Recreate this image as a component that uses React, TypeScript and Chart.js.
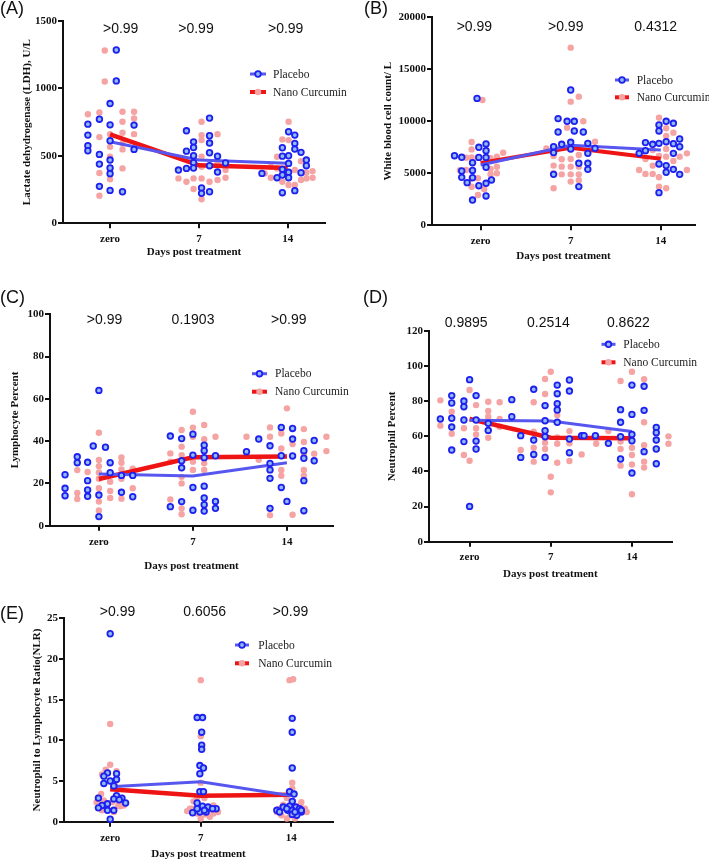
import React, { useEffect, useRef } from 'react';
import { Chart, registerables } from 'chart.js';

Chart.register(...registerables);

// ---------- shared labels ----------
const dayLabels = ['zero', '7', '14'];
const xAxisTitle = 'Days post treatment';
const legendNames = ['Placebo', 'Nano Curcumin'];

// ---------- (A) LDH ----------
const ldhTitle = 'Lactate dehydrogenase (LDH), U/L';
const ldhPValues = ['>0.99', '>0.99', '>0.99'];
const ldhYTicks = [0, 500, 1000, 1500];
const ldhPlaceboMean = [605, 470, 445];
const ldhNanoMean = [660, 430, 410];
// [jitter, value] per day
const ldhPlacebo = [
  [[-0.25, 735], [-0.25, 654], [-0.25, 575], [-0.25, 538], [-0.12, 772], [-0.12, 511], [-0.12, 439], [-0.12, 274], [0, 888], [0, 730], [0, 612], [0, 469], [0, 410], [0, 368], [0, 244], [0.07, 1285], [0.07, 1056], [0.14, 234], [0.27, 728], [0.27, 548]],
  [[-0.23, 395], [-0.14, 686], [-0.14, 535], [-0.14, 407], [-0.06, 604], [-0.06, 562], [-0.06, 501], [-0.06, 449], [-0.06, 410], [0.03, 262], [0.03, 222], [0.12, 780], [0.12, 649], [0.12, 595], [0.12, 523], [0.12, 427], [0.12, 234], [0.21, 498], [0.21, 380], [0.3, 447]],
  [[-0.29, 370], [-0.12, 338], [-0.06, 560], [-0.06, 498], [-0.06, 400], [-0.06, 358], [-0.06, 227], [0.01, 679], [0.01, 501], [0.01, 444], [0.01, 378], [0.01, 338], [0.08, 654], [0.08, 592], [0.08, 550], [0.08, 242], [0.15, 526], [0.15, 375], [0.21, 469], [0.21, 427]],
];
const ldhNano = [
  [[-0.25, 809], [-0.12, 822], [-0.12, 639], [-0.12, 373], [-0.12, 205], [-0.06, 1281], [-0.06, 1051], [0, 660], [0, 567], [0, 493], [0, 395], [0, 326], [0.14, 827], [0.14, 753], [0.14, 671], [0.14, 592], [0.14, 548], [0.14, 407], [0.27, 827], [0.27, 777], [0.27, 661]],
  [[-0.23, 333], [-0.14, 308], [-0.06, 567], [-0.06, 333], [-0.06, 254], [0.03, 753], [0.03, 654], [0.03, 617], [0.03, 493], [0.03, 419], [0.03, 333], [0.03, 178], [0.12, 654], [0.12, 308], [0.21, 661], [0.21, 444], [0.21, 321], [0.3, 395], [0.3, 338]],
  [[-0.26, 370], [-0.19, 338], [-0.19, 420], [-0.12, 493], [-0.12, 407], [-0.06, 622], [-0.06, 308], [0.01, 753], [0.01, 617], [0.01, 284], [0.08, 395], [0.08, 284], [0.15, 461], [0.15, 321], [0.21, 375], [0.21, 333], [0.28, 387], [0.28, 338]],
];

// ---------- (B) WBC ----------
const wbcTitle = 'White blood cell count/ L';
const wbcPValues = ['>0.99', '>0.99', '0.4312'];
const wbcYTicks = [0, 5000, 10000, 15000, 20000];
const wbcPlaceboMean = [5800, 7700, 7250];
const wbcNanoMean = [6000, 7450, 6400];
const wbcPlacebo = [
  [[-0.29, 6690], [-0.21, 6540], [-0.21, 5220], [-0.21, 4610], [-0.15, 4100], [-0.09, 6020], [-0.09, 5280], [-0.09, 4580], [-0.09, 2430], [-0.04, 12200], [-0.02, 7500], [-0.02, 6530], [-0.02, 3810], [0.06, 7820], [0.06, 7170], [0.06, 6530], [0.06, 5580], [0.06, 4040], [0.06, 2820], [0.12, 4360]],
  [[-0.14, 10260], [-0.14, 8970], [-0.19, 7560], [-0.19, 6990], [-0.19, 4900], [-0.1, 7790], [-0.04, 10000], [0, 13010], [0, 7980], [0, 7340], [0.04, 10000], [0.04, 9070], [0.09, 5960], [0.09, 3720], [0.14, 8970], [0.19, 7880], [0.19, 6920], [0.19, 5960], [0.19, 5380], [0.27, 7400]],
  [[-0.24, 6920], [-0.17, 7950], [-0.17, 7180], [-0.09, 7790], [-0.02, 9650], [-0.02, 9070], [-0.02, 7880], [-0.02, 5900], [-0.02, 3140], [0.06, 10000], [0.06, 8040], [0.06, 5740], [0.06, 5100], [0.14, 9810], [0.14, 7850], [0.14, 6920], [0.14, 5380], [0.21, 8300], [0.21, 7560], [0.21, 4900]],
];
const wbcNano = [
  [[0.02, 12050], [-0.1, 8010], [-0.1, 7300], [-0.16, 6500], [-0.1, 6530], [-0.16, 5320], [-0.03, 6530], [-0.03, 4520], [-0.1, 3710], [-0.03, 2910], [0.04, 3460], [0.11, 6440], [0.11, 5410], [0.11, 4900], [0.18, 6600], [0.18, 5630], [0.18, 5000], [0.25, 6980], [-0.23, 5300], [-0.1, 4500]],
  [[0, 11890], [0.09, 12370], [0, 17080], [-0.27, 7400], [-0.19, 6670], [-0.19, 5740], [-0.19, 5000], [-0.19, 3560], [-0.1, 6350], [-0.1, 5640], [-0.1, 4900], [-0.04, 9390], [0, 6380], [0, 5640], [0, 4900], [0, 4200], [0.09, 6760], [0.09, 5640], [0.09, 4900], [0.09, 4330], [0.14, 10000], [0.27, 8040]],
  [[-0.24, 5320], [-0.17, 6380], [-0.17, 4940], [-0.09, 7240], [-0.09, 5740], [-0.09, 4940], [-0.02, 10350], [-0.02, 6670], [-0.02, 4620], [-0.02, 3720], [0.06, 9330], [0.06, 8590], [0.06, 6600], [0.06, 3560], [0.14, 8910], [0.14, 6190], [0.21, 6600], [0.29, 6920], [0.29, 5320], [0.06, 7340]],
];

// ---------- (C) Lymphocyte ----------
const lymTitle = 'Lymphocyte Percent';
const lymPValues = ['>0.99', '0.1903', '>0.99'];
const lymYTicks = [0, 20, 40, 60, 80, 100];
const lymPlaceboMean = [24.5, 23.5, 29.8];
const lymNanoMean = [22.1, 32.4, 32.7];
const lymPlacebo = [
  [[-0.36, 24.1], [-0.36, 17.7], [-0.36, 14.2], [-0.23, 32.6], [-0.23, 29.8], [-0.12, 30], [-0.12, 21.3], [-0.12, 16.9], [-0.12, 13.9], [-0.06, 37.7], [0, 14.5], [0, 4.3], [0, 64], [0.07, 37.1], [0.12, 29.8], [0.12, 25.1], [0.24, 23.8], [0.24, 15.8], [0.36, 23.8], [0.36, 13.7]],
  [[-0.24, 42.4], [-0.24, 9], [-0.12, 41.2], [-0.12, 30.7], [-0.12, 27.4], [-0.12, 11.4], [0, 43.3], [0, 33.4], [0, 18.1], [0, 7.3], [0.12, 38.1], [0.12, 35.5], [0.12, 32.2], [0.12, 18.7], [0.12, 13.1], [0.12, 9.9], [0.12, 6.9], [0.24, 33.1], [0.24, 11.5], [0.24, 8.2]],
  [[-0.43, 35], [-0.3, 41], [-0.18, 37.8], [-0.18, 29.5], [-0.18, 26.4], [-0.18, 22.4], [-0.18, 8.2], [-0.06, 46.5], [-0.06, 33.1], [-0.06, 18.1], [0, 11.5], [0.06, 46], [0.06, 41], [0.06, 33], [0.18, 35.5], [0.18, 31.9], [0.18, 21.3], [0.18, 7.1], [0.29, 40.3], [0.29, 30.7]],
];
const lymNano = [
  [[-0.23, 26.3], [-0.23, 15.5], [-0.23, 12.6], [-0.12, 25.4], [0, 44], [0, 31.1], [0, 28.1], [0, 25.2], [0, 22.2], [0, 17.7], [0, 11.4], [0, 7.2], [0.12, 20.8], [0.12, 16.4], [0.12, 13.1], [0.24, 32.3], [0.24, 29.8], [0.24, 26.6], [0.24, 22.2], [0.24, 12.8], [0.36, 27], [0.36, 17.7]],
  [[-0.24, 34.2], [-0.24, 30.3], [-0.24, 12.4], [-0.12, 45.3], [-0.12, 37.4], [-0.12, 33.4], [-0.12, 23.1], [-0.12, 20], [-0.12, 8.2], [-0.12, 5.4], [0, 53.9], [0, 46.4], [0, 42.1], [0, 30.3], [0, 26.4], [0.12, 47.6], [0.12, 40.9], [0.12, 29.5], [0.12, 26.4], [0.24, 42.1]],
  [[-0.43, 42.1], [-0.3, 31.2], [-0.18, 46.5], [-0.18, 42.1], [-0.18, 5], [-0.06, 43.6], [-0.06, 36.5], [-0.06, 26.4], [-0.06, 23.6], [0, 55.5], [0.06, 38.6], [0.06, 5.2], [0.18, 45.7], [0.18, 39.6], [0.18, 34], [0.18, 26.4], [0.18, 23.6], [0.29, 34], [0.42, 42.1], [0.42, 35.3]],
];

// ---------- (D) Neutrophil ----------
const neuTitle = 'Neutrophil Percent';
const neuPValues = ['0.9895', '0.2514', '0.8622'];
const neuYTicks = [0, 20, 40, 60, 80, 100, 120];
const neuPlaceboMean = [69.1, 68.7, 62.7];
const neuNanoMean = [69.9, 59.2, 58.9];
const neuPlacebo = [
  [[-0.36, 69.9], [-0.22, 83.2], [-0.22, 79], [-0.22, 70.3], [-0.22, 65.3], [-0.22, 52.2], [-0.07, 80.1], [-0.07, 76.9], [-0.07, 69.3], [-0.07, 57], [0, 92.3], [0, 20.1], [0.08, 83.2], [0.08, 69.3], [0.08, 57.3], [0.08, 52.8], [0.23, 67.4], [0.23, 63.4], [0.52, 80.9], [0.52, 71.2]],
  [[-0.37, 60.4], [-0.37, 48], [-0.21, 86.8], [-0.21, 57.9], [-0.21, 49.7], [-0.07, 77.5], [-0.07, 68.9], [-0.07, 63.2], [-0.07, 59.8], [-0.07, 48], [0.08, 89.2], [0.08, 84.3], [0.08, 78.6], [0.08, 75], [0.08, 68], [0.23, 92.1], [0.23, 85.8], [0.23, 58.5], [0.23, 50.7], [0.38, 60.4], [0.41, 60.4]],
  [[-0.45, 60.4], [-0.29, 56], [-0.14, 75.2], [-0.14, 68], [-0.14, 59.8], [-0.14, 47.1], [0, 89.2], [0, 72.5], [0, 61.1], [0, 57.5], [0, 39.1], [0.15, 88.5], [0.15, 74.8], [0.15, 51.3], [0.3, 65.1], [0.3, 62.1], [0.3, 57.9], [0.3, 52.8], [0.3, 44.4]],
];
const neuNano = [
  [[-0.36, 80.5], [-0.36, 66.1], [-0.22, 74], [-0.22, 61.5], [-0.07, 64.6], [-0.07, 49.4], [0, 86.4], [0, 46.1], [0.08, 77.8], [0.08, 64.6], [0.08, 61.1], [0.23, 79.7], [0.23, 74.4], [0.23, 71.2], [0.23, 59.2], [0.37, 79.4], [0.37, 69.9], [0.37, 65.5]],
  [[-0.37, 52.2], [-0.21, 79.4], [-0.21, 62.7], [-0.21, 53.5], [-0.21, 45.6], [-0.07, 92.7], [-0.07, 84.1], [-0.07, 56.4], [-0.07, 52.8], [-0.07, 48.4], [0, 96.8], [0, 37], [0, 28.1], [0.08, 72.2], [0.08, 59.4], [0.08, 55.8], [0.08, 45], [0.23, 63], [0.23, 56], [0.23, 46], [0.38, 49.7], [0.56, 55.8]],
  [[-0.29, 63], [-0.14, 91.5], [-0.14, 57], [-0.14, 52.8], [-0.14, 43.3], [0, 96.8], [0, 53.5], [0, 49.4], [0, 44], [0, 27], [0.15, 92.5], [0.15, 68], [0.15, 55], [0.15, 45.6], [0.15, 42.2], [0.45, 60], [0.45, 55.8]],
];

// ---------- (E) NLR ----------
const nlrTitle = 'Neutrophil to Lymphocyte Ratio(NLR)';
const nlrPValues = ['>0.99', '0.6056', '>0.99'];
const nlrYTicks = [0, 5, 10, 15, 20, 25];
const nlrPlaceboMean = [4.3, 4.9, 3.2];
const nlrNanoMean = [4.0, 3.2, 3.3];
const nlrPlacebo = [
  [[0, 23.1], [-0.03, 6.0], [0.07, 5.9], [-0.07, 5.6], [0.07, 5.2], [0, 5.0], [-0.07, 4.7], [0.04, 4.4], [-0.13, 2.9], [0.07, 3.2], [0.04, 2.8], [0.13, 2.9], [0.17, 2.3], [-0.03, 2.2], [-0.09, 2.0], [-0.13, 1.7], [-0.03, 1.4], [0.04, 1.4], [0, 0.3], [0.1, 2.7]],
  [[-0.04, 12.8], [0.02, 12.8], [0.01, 11.0], [0.01, 9.4], [0.01, 8.9], [-0.01, 6.9], [0.03, 6.6], [-0.01, 5.9], [-0.01, 3.7], [0.03, 3.7], [-0.04, 2.3], [0.02, 1.9], [0.08, 1.8], [0.17, 1.6], [-0.09, 1.1], [-0.01, 1.2], [0.06, 1.2], [-0.04, 1.6], [0.13, 1.6], [0.04, 1.4]],
  [[0.01, 12.7], [0.01, 11.0], [0.01, 6.6], [-0.02, 3.7], [0.03, 3.4], [0.01, 2.5], [-0.02, 1.9], [-0.09, 1.8], [0.05, 1.8], [0.09, 1.6], [-0.16, 1.4], [-0.13, 1.2], [-0.04, 1.4], [0.01, 1.4], [0.11, 1.2], [0.06, 0.8], [0.01, 0.9], [0.11, 1.4], [0.04, 1.2], [-0.05, 1.6]],
];
const nlrNano = [
  [[0, 12], [0, 7], [-0.05, 6.4], [0.07, 6.2], [-0.09, 5.8], [0.05, 4.6], [-0.1, 3.4], [-0.13, 3.0], [0.1, 2.6], [-0.15, 2.4], [0.13, 2.2], [-0.07, 2.6], [0.09, 2.0], [-0.11, 2.1], [0.15, 2.0], [-0.04, 1.8], [0.02, 2.4], [-0.09, 1.4], [0.11, 1.9], [0.04, 1.2]],
  [[0, 17.4], [0, 10.5], [0, 4.8], [0, 3.3], [-0.08, 2.5], [-0.12, 1.6], [-0.15, 1.3], [-0.04, 1.0], [0.07, 1.6], [0.14, 1.0], [0, 0.4], [0.1, 0.6], [-0.1, 1.6], [0.19, 1.2], [0.04, 2.9], [-0.04, 2.9], [0.14, 2.0], [-0.06, 1.1], [0.05, 0.9]],
  [[-0.02, 17.4], [0.02, 17.5], [0.01, 4.8], [0.01, 4.1], [-0.05, 2.9], [0.11, 2.4], [-0.09, 2.1], [-0.13, 1.6], [0.17, 1.2], [-0.16, 1.2], [0.08, 1.2], [-0.01, 0.8], [-0.05, 0.4], [0.1, 2.0], [0.02, 2.5], [0.15, 1.6], [-0.11, 0.8], [0.04, 0.4]],
];

// ---------- styles ----------
const PINK = '#f5a3a3';
const BLUE_EDGE = '#1f1ff0';
const BLUE_FILL = '#8fbaf4';
const BLUE_LINE = '#5757f0';
const RED_LINE = '#ee1414';
const INK = '#111111';
const SERIF = '"Liberation Serif", "Times New Roman", serif';
const SANS = '"Liberation Sans", Arial, sans-serif';

const panels = [
  {
    key: 'A', letter: '(A)', letterPos: { l: 0, t: -1 },
    yTitle: ldhTitle, pValues: ldhPValues, yTicks: ldhYTicks,
    placebo: ldhPlacebo, nano: ldhNano, placeboMean: ldhPlaceboMean, nanoMean: ldhNanoMean,
    box: { l: 0, t: 0, w: 350, h: 259 }, area: { l: 63, r: 325, t: 21, b: 223.3 },
    xMin: -0.53, xMax: 2.42, yTitleCX: 26.7, xTickCY: 239.3, pCY: 29.5, pOff: [10.6, -2.9, -2.0],
    legend: { x0: 250, x1: 266, cx: 258, tx: 273, rows: [74, 92] }, redW: 4.5,
  },
  {
    key: 'B', letter: '(B)', letterPos: { l: 364, t: -1 },
    yTitle: wbcTitle, pValues: wbcPValues, yTicks: wbcYTicks,
    placebo: wbcPlacebo, nano: wbcNano, placeboMean: wbcPlaceboMean, nanoMean: wbcNanoMean,
    box: { l: 355, t: 0, w: 354, h: 263 }, area: { l: 432, r: 695, t: 17.3, b: 225.3 },
    xMin: -0.54, xMax: 2.38, yTitleCX: 388.3, xTickCY: 240.7, pCY: 27.5, pOff: [-6.3, -5, -5.1],
    legend: { x0: 615, x1: 629, cx: 622, tx: 636.7, rows: [80, 97.3] }, redW: 4,
  },
  {
    key: 'C', letter: '(C)', letterPos: { l: 0, t: 287.5 },
    yTitle: lymTitle, pValues: lymPValues, yTicks: lymYTicks,
    placebo: lymPlacebo, nano: lymNano, placeboMean: lymPlaceboMean, nanoMean: lymNanoMean,
    box: { l: 0, t: 275, w: 350, h: 298 }, area: { l: 50, r: 333, t: 314.3, b: 525.7 },
    xMin: -0.52, xMax: 2.49, yTitleCX: 15.3, xTickCY: 541.7, pCY: 320, pOff: [5.6, 0.1, 1.9],
    legend: { x0: 252, x1: 267, cx: 259.5, tx: 275, rows: [373.7, 391.7] }, redW: 4.5,
  },
  {
    key: 'D', letter: '(D)', letterPos: { l: 363, t: 287.5 },
    yTitle: neuTitle, pValues: neuPValues, yTicks: neuYTicks,
    placebo: neuPlacebo, nano: neuNano, placeboMean: neuPlaceboMean, nanoMean: neuNanoMean,
    box: { l: 355, t: 275, w: 354, h: 306 }, area: { l: 429, r: 671.7, t: 331, b: 541.7 },
    xMin: -0.5, xMax: 2.49, yTitleCX: 391.7, xTickCY: 557, pCY: 323, pOff: [-3.4, -2.3, -3.6],
    legend: { x0: 601.5, x1: 615.5, cx: 608.5, tx: 623.3, rows: [344.3, 362.3] }, redW: 4.5,
  },
  {
    key: 'E', letter: '(E)', letterPos: { l: 0, t: 604 },
    yTitle: nlrTitle, pValues: nlrPValues, yTicks: nlrYTicks,
    placebo: nlrPlacebo, nano: nlrNano, placeboMean: nlrPlaceboMean, nanoMean: nlrNanoMean,
    box: { l: 0, t: 590, w: 350, h: 271 }, area: { l: 64, r: 333, t: 618.3, b: 821.7 },
    xMin: -0.51, xMax: 2.46, yTitleCX: 36.7, xTickCY: 838.3, pCY: 612, pOff: [7.3, 3.9, -0.8],
    legend: { x0: 235, x1: 249, cx: 242, tx: 258.3, rows: [645, 663.3] }, redW: 4.5,
  },
];

const toPoints = (groups) =>
  groups.flatMap((g, d) => g.map(([j, v]) => ({ x: d + j, y: v })));
const toMeans = (m) => m.map((v, i) => ({ x: i, y: v }));

function drawBlueMarker(ctx, x, y) {
  ctx.beginPath();
  ctx.arc(x, y, 2.8, 0, Math.PI * 2);
  ctx.fillStyle = BLUE_FILL;
  ctx.fill();
  ctx.lineWidth = 1.8;
  ctx.strokeStyle = BLUE_EDGE;
  ctx.stroke();
}

function Panel({ cfg }) {
  const ref = useRef(null);
  useEffect(() => {
    const { box, area } = cfg;
    const tickFont = { family: SERIF, size: 11, weight: 'bold' };
    const overlay = {
      id: 'overlay' + cfg.key,
      afterDatasetsDraw(chart) {
        const ctx = chart.ctx;
        const xs = chart.scales.x;
        ctx.save();
        // p-values
        ctx.font = '14px ' + SANS;
        ctx.fillStyle = INK;
        ctx.textAlign = 'center';
        ctx.textBaseline = 'middle';
        cfg.pValues.forEach((t, i) => {
          ctx.fillText(t, xs.getPixelForValue(i) + cfg.pOff[i], cfg.pCY - box.t);
        });
        // legend
        const lg = cfg.legend;
        const y0 = lg.rows[0] - box.t;
        const y1 = lg.rows[1] - box.t;
        const x0 = lg.x0 - box.l, x1 = lg.x1 - box.l, cx = lg.cx - box.l, tx = lg.tx - box.l;
        ctx.lineCap = 'butt';
        ctx.strokeStyle = BLUE_LINE;
        ctx.lineWidth = 3;
        ctx.beginPath(); ctx.moveTo(x0, y0); ctx.lineTo(x1, y0); ctx.stroke();
        drawBlueMarker(ctx, cx, y0);
        ctx.strokeStyle = RED_LINE;
        ctx.lineWidth = 4;
        ctx.beginPath(); ctx.moveTo(x0, y1); ctx.lineTo(x1, y1); ctx.stroke();
        ctx.beginPath(); ctx.arc(cx, y1, 3.2, 0, Math.PI * 2); ctx.fillStyle = PINK; ctx.fill();
        ctx.font = '11.5px ' + SERIF;
        ctx.fillStyle = '#222';
        ctx.textAlign = 'left';
        ctx.fillText(legendNames[0], tx, y0 + 0.5);
        ctx.fillText(legendNames[1], tx, y1 + 0.5);
        ctx.restore();
      },
    };
    const gridCfg = {
      display: true, drawOnChartArea: false, drawTicks: true, tickLength: 5,
      color: INK, lineWidth: 2, tickColor: INK, tickWidth: 2,
    };
    const chart = new Chart(ref.current, {
      type: 'scatter',
      data: {
        datasets: [
          {
            label: legendNames[0], data: toPoints(cfg.placebo), showLine: false,
            pointRadius: 2.8, pointBorderWidth: 1.8, borderColor: BLUE_EDGE, pointBorderColor: BLUE_EDGE,
            backgroundColor: BLUE_FILL, pointBackgroundColor: BLUE_FILL, clip: false,
          },
          {
            label: legendNames[0] + ' mean', data: toMeans(cfg.placeboMean), showLine: true,
            pointRadius: 0, borderColor: BLUE_LINE, borderWidth: 3, clip: false,
          },
          {
            label: legendNames[1] + ' mean', data: toMeans(cfg.nanoMean), showLine: true,
            pointRadius: 0, borderColor: RED_LINE, borderWidth: cfg.redW, clip: false,
          },
          {
            label: legendNames[1], data: toPoints(cfg.nano), showLine: false,
            pointRadius: 3.2, pointBorderWidth: 0, borderColor: PINK, pointBorderColor: PINK,
            backgroundColor: PINK, pointBackgroundColor: PINK, clip: false,
          },
        ],
      },
      options: {
        animation: false, responsive: false, devicePixelRatio: 1, events: [],
        layout: { padding: { left: 0, top: area.t - box.t, right: box.l + box.w - area.r, bottom: 0 } },
        plugins: { legend: { display: false }, tooltip: { enabled: false } },
        scales: {
          x: {
            type: 'linear', position: 'bottom', min: cfg.xMin, max: cfg.xMax,
            afterBuildTicks: (s) => { s.ticks = dayLabels.map((_, i) => ({ value: i })); },
            afterFit: (s) => { s.height = box.t + box.h - area.b; },
            ticks: {
              callback: (v) => dayLabels[v] ?? '', font: tickFont, color: INK,
              padding: cfg.xTickCY - area.b - 5 - 6.6, maxRotation: 0, autoSkip: false,
            },
            grid: gridCfg,
            border: { display: true, color: INK, width: 2 },
            title: { display: true, text: xAxisTitle, font: tickFont, color: INK, padding: { top: 0, bottom: 0 } },
          },
          y: {
            type: 'linear', min: cfg.yTicks[0], max: cfg.yTicks[cfg.yTicks.length - 1],
            afterBuildTicks: (s) => { s.ticks = cfg.yTicks.map((v) => ({ value: v })); },
            afterFit: (s) => { s.width = area.l - box.l; },
            ticks: { callback: (v) => String(v), font: tickFont, color: INK, padding: 1 },
            grid: gridCfg,
            border: { display: true, color: INK, width: 2 },
            title: {
              display: true, text: cfg.yTitle, font: tickFont, color: INK,
              padding: { top: cfg.yTitleCX - box.l - 6.6, bottom: 0 },
            },
          },
        },
      },
      plugins: [overlay],
    });
    return () => chart.destroy();
  }, [cfg]);
  return (
    <canvas
      ref={ref}
      width={cfg.box.w}
      height={cfg.box.h}
      style={{ position: 'absolute', left: cfg.box.l, top: cfg.box.t, width: cfg.box.w, height: cfg.box.h }}
    />
  );
}

export default function App() {
  return (
    <div style={{ position: 'absolute', left: 0, top: 0, width: 709, height: 862, background: '#fff', overflow: 'hidden' }}>
      {panels.map((p) => (
        <Panel key={p.key} cfg={p} />
      ))}
      {panels.map((p) => (
        <div
          key={'lbl' + p.key}
          style={{
            position: 'absolute', left: p.letterPos.l, top: p.letterPos.t,
            fontFamily: SANS, fontSize: 18, lineHeight: '18px', color: INK, whiteSpace: 'nowrap',
          }}
        >
          {p.letter}
        </div>
      ))}
    </div>
  );
}
